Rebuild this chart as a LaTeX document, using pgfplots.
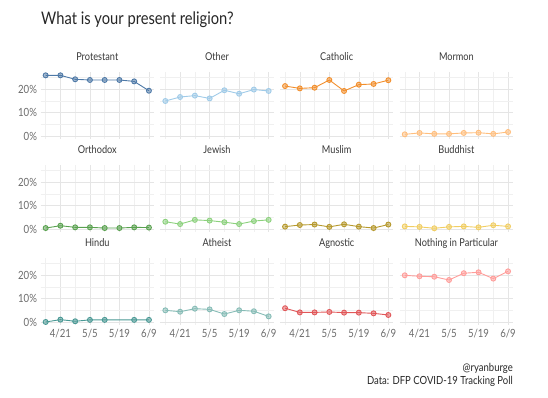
\documentclass[border=0pt]{standalone}
\usepackage{pgfplots}
\pgfplotsset{compat=1.18}
\usepackage{pgfplotstable}
\usepackage{fontspec}
\setmainfont{Lato}[FakeStretch=0.85]
\definecolor{cP}{HTML}{4E79A7}
\definecolor{cO}{HTML}{A0CBE8}
\definecolor{cC}{HTML}{F28E2B}
\definecolor{cM}{HTML}{FFBE7D}
\definecolor{cOr}{HTML}{59A14F}
\definecolor{cJ}{HTML}{8CD17D}
\definecolor{cMu}{HTML}{B6992D}
\definecolor{cB}{HTML}{F1CE63}
\definecolor{cH}{HTML}{499894}
\definecolor{cA}{HTML}{86BCB6}
\definecolor{cAg}{HTML}{E15759}
\definecolor{cN}{HTML}{FF9D9A}
\pgfplotstableread{
x P O C M Or J Mu B H A Ag N
0 26.0 15.0 21.4 0.7 0.4 3.1 1.0 1.1 0.0 5.0 5.9 20.0
1 26.0 16.7 20.4 1.3 1.4 2.1 1.7 0.9 1.0 4.4 4.1 19.6
2 24.3 17.3 20.7 0.9 0.7 3.9 1.9 0.3 0.3 5.7 4.1 19.4
3 24.0 16.1 24.0 0.9 0.7 3.6 0.9 0.9 0.9 5.4 4.3 18.0
4 24.0 19.6 19.3 1.3 0.4 2.9 2.0 1.1 0.9 3.4 4.0 20.9
5 24.0 18.1 22.0 1.4 0.4 2.1 1.0 0.7 nan 5.0 4.0 21.3
6 23.4 19.9 22.3 0.9 0.7 3.4 0.4 1.6 0.9 4.6 3.7 18.6
7 19.4 19.3 23.9 1.7 0.6 3.9 1.9 1.1 0.9 2.4 3.0 21.7
}\datatable
\pgfplotsset{
  panel/.style={
    scale only axis, width=113.6pt, height=67.4pt, anchor=south west,
    xmin=-0.35, xmax=7.35, ymin=-1.3, ymax=27.6,
    axis line style={draw=none}, tick style={draw=none},
    xtick={1,3,5,7}, minor xtick={0,2,4,6},
    ytick={0,10,20}, minor ytick={5,15,25},
    xticklabels={}, yticklabels={},
    grid=both,
    major grid style={line width=0.5pt, draw=black!10},
    minor grid style={line width=0.4pt, draw=black!6},
    title style={anchor=base, at={(0.5,1)}, yshift=5pt, font=\fontsize{10.8}{12}\selectfont, text=black!78},
    ticklabel style={font=\fontsize{11.3}{12}\selectfont, text=black!58},
    xticklabel style={yshift=-1pt},
    unbounded coords=discard,
  },
  ylab/.style={yticklabels={0\%,10\%,20\%}},
  xlab/.style={xticklabels={4/21,5/5,5/19,6/9}},
}
\newcommand{\panel}[6]{%
\begin{axis}[panel, at={(40.5pt+119.7pt*#1, 258pt-93pt*#2)}, title={#4}, #6]
\addplot[color=#5, line width=0.9pt, mark=*, mark size=2.5pt,
  mark options={draw=none, fill=#5, fill opacity=0.5}] table[x=x, y=#3]{\datatable};
\end{axis}}
\begin{document}
\begin{tikzpicture}[x=1pt,y=1pt]
\useasboundingbox (0,0) rectangle (548,397);
\panel{0}{0}{P}{Protestant}{cP}{ylab}
\panel{1}{0}{O}{Other}{cO}{}
\panel{2}{0}{C}{Catholic}{cC}{}
\panel{3}{0}{M}{Mormon}{cM}{}
\panel{0}{1}{Or}{Orthodox}{cOr}{ylab}
\panel{1}{1}{J}{Jewish}{cJ}{}
\panel{2}{1}{Mu}{Muslim}{cMu}{}
\panel{3}{1}{B}{Buddhist}{cB}{}
\panel{0}{2}{H}{Hindu}{cH}{ylab,xlab}
\panel{1}{2}{A}{Atheist}{cA}{xlab}
\panel{2}{2}{Ag}{Agnostic}{cAg}{xlab}
\panel{3}{2}{N}{Nothing in Particular}{cN}{xlab}
\node[anchor=base west, inner sep=0, font=\fontsize{17.3}{20}\selectfont, text=black!85] at (41,397-25) {What is your present religion?};
\node[anchor=base east, inner sep=0, font=\fontsize{11.2}{12}\selectfont, text=black!85] at (513,397-371) {@ryanburge};
\node[anchor=base east, inner sep=0, font=\fontsize{11.2}{12}\selectfont, text=black!85] at (513,397-384) {Data: DFP COVID-19 Tracking Poll};
\end{tikzpicture}
\end{document}
